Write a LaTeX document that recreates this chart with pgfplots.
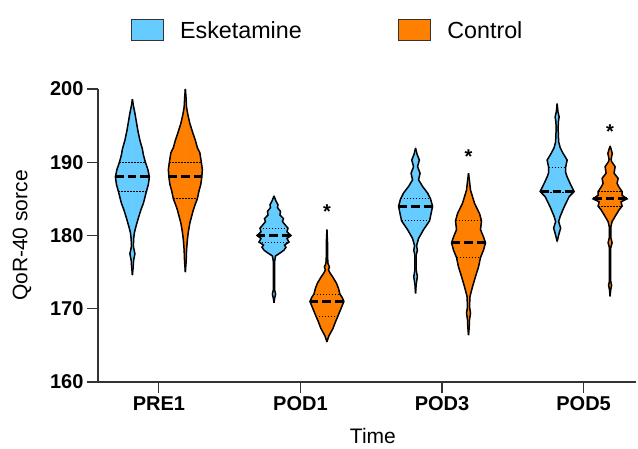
\documentclass[border=0pt]{standalone}
\usepackage{fontspec}
\setmainfont{Liberation Sans}
\usepackage{pgfplots}
\pgfplotsset{compat=1.18}
\usepackage{pgfplotstable}

\definecolor{eskblue}{HTML}{66CCFF}
\definecolor{ctrlorange}{HTML}{FF8000}

% violin profiles: v = score, w = half width (px)
\pgfplotstableread{
v w
174.6 0
175.6 0.7
176.6 1.2
177.5 2.5
178.5 1
179.5 1.2
180.4 2
181.2 3.5
182.4 6
183.5 8.5
184.4 11
185.2 12.5
186 14
187 16
188 17
189 15.5
190 13
191 11
191.8 10
193 7.5
194.3 5.5
195.5 4
196.7 2.5
197.7 1
198.6 0
}\preE
\pgfplotstableread{
v w
175 0
176.5 0.8
178 1.2
179.4 2
180.5 3
181.7 4.5
183.5 8
184.3 10
185 12
186 13.5
187 15.5
188 16.5
189 17
190 16
191.3 14.5
192 12
193 10
194 7.5
195.3 4.5
196.5 2.5
197.5 1.2
199 0.6
200 0
}\preC
\pgfplotstableread{
v w
170.8 0
171.4 0.6
172.0 1.6
172.6 0.6
174.5 0.6
176.5 0.7
177.2 1.5
177.6 6
178.0 10
178.4 12
178.7 10.5
179.1 15
179.6 13
180.0 17
180.5 13
181.0 14
181.4 11.5
181.9 8.5
182.3 9.5
182.8 6
183.3 6.5
183.8 3.5
184.2 4
184.7 2
185.4 0
}\podaE
\pgfplotstableread{
v w
165.5 0
166.3 2
167.3 6
168.2 8.5
169 11
170 14
171 17
171.6 15
172 13
172.8 11.5
173.5 9.5
174.3 6
174.9 3
175.3 1.5
175.7 2.5
176.2 1
177.2 0.6
179 0.6
180.8 0
}\podaC
\pgfplotstableread{
v w
172.1 0
173.3 0.6
174.4 1.8
175.3 0.6
177.3 0.6
178.0 1.8
178.6 1
179.6 3
180.8 8
182 14
183.3 16
184 17
185 15
185.8 12
186.7 7
187.6 3
188.5 4.5
189.4 2
190.3 3.8
191.1 1.5
191.9 0
}\podcE
\pgfplotstableread{
v w
166.4 0
167.5 0.7
168.5 1
169.4 2
170.3 1
171.7 1.5
173 4
174.4 7
175.7 10
177 12
178 15
179 17
179.8 15
180.8 12
182 13
183 11
184.4 6
185.3 4
186.2 2
187.4 1
188.5 0
}\podcC
\pgfplotstableread{
v w
179.2 0
180.3 2
181 3.5
181.9 1.5
182.6 3
183.9 7
185.3 12
186 17
187.1 13
188 10
188.6 8.5
189.3 8.5
190.3 10
191.2 6
192 3
192.8 1.5
194.5 1
195.5 1.2
196.2 2
196.9 0.8
198 0
}\podeE
\pgfplotstableread{
v w
171.7 0
172.6 0.6
173.2 1.5
173.8 0.6
178.3 0.6
179 2
179.7 0.8
181.2 0.8
181.9 2
182.6 5
183.5 9
184 12
184.6 11
185 17
185.5 12
186 12
186.6 9
187.1 7
187.8 8
188.5 4
189.4 5
190.1 1.5
190.4 1
191.2 2.2
191.8 1
192.2 0
}\podeC

\newcommand{\violin}[3]{%
  \addplot[fill=#3, draw=#3, line width=0.6bp, forget plot] table[x expr=#2+\thisrow{w}/141.7, y=v] {#1} -- cycle;
  \addplot[fill=#3, draw=#3, line width=0.6bp, forget plot] table[x expr=#2-\thisrow{w}/141.7, y=v] {#1} -- cycle;
  \addplot[black, line width=1.5bp, forget plot] table[x expr=#2+\thisrow{w}/141.7, y=v] {#1};
  \addplot[black, line width=1.5bp, forget plot] table[x expr=#2-\thisrow{w}/141.7, y=v] {#1};
}
% quartile / median line: centre, value, half width (px), style
\newcommand{\qline}[4]{%
  \addplot[#4, forget plot] table[x expr=#1+\thisrow{s}*#3/141.7, y expr=#2, row sep=\\] {s\\ -1\\ 1\\};
}
\tikzset{
  med/.style={black, line width=3.1bp, dash pattern=on 8.5bp off 4bp},
  qrt/.style={black, line width=1.1bp, dash pattern=on 1.4bp off 1.6bp},
}

\begin{document}
\begin{tikzpicture}
\begin{axis}[
    scale only axis,
    width=538bp, height=293bp,
    xmin=-0.43, xmax=3.37,
    ymin=160, ymax=200,
    axis x line*=bottom, axis y line*=left,
    axis line style={line width=1.1bp, black!80},
    xtick={0,1,2,3},
    xticklabels={PRE1,POD1,POD3,POD5},
    ytick={160,170,...,200},
    tick align=outside,
    major tick length=11bp,
    tick style={line width=1.1bp, black!80},
    ticklabel style={font=\fontsize{20bp}{24bp}\selectfont\bfseries},
    /pgf/number format/assume math mode=true,
    xlabel={Time}, ylabel={QoR-40 sorce},
    label style={font=\fontsize{21bp}{25bp}\selectfont},
    xlabel style={at={(axis description cs:0.511,0)}, anchor=center, yshift=-54bp, inner sep=1bp},
    ylabel style={at={(axis description cs:-0.141,0.5)}, anchor=center},
    legend style={draw=none, fill=none, at={(axis description cs:0.4266,1.2)},
        anchor=center, font=\fontsize{23.3bp}{27bp}\selectfont,
        /tikz/every even column/.append style={column sep=94bp}},
    legend columns=2,
    legend image code/.code={\draw[#1] (0bp,-10.5bp) rectangle (32bp,10.5bp);
        \path[draw=none, fill=none] (32bp,0bp) -- (47bp,0bp);},
    clip=false,
]
\addlegendimage{fill=eskblue, draw=black!80, line width=1bp}
\addlegendentry{Esketamine}
\addlegendimage{fill=ctrlorange, draw=black!80, line width=1bp}
\addlegendentry{Control}

% PRE1
\violin{\preE}{-0.187}{eskblue}
\qline{-0.187}{186}{14}{qrt}
\qline{-0.187}{190}{13}{qrt}
\qline{-0.187}{188}{17}{med}
\violin{\preC}{0.187}{ctrlorange}
\qline{0.187}{185}{12}{qrt}
\qline{0.187}{190}{16}{qrt}
\qline{0.187}{188}{16.5}{med}
% POD1
\violin{\podaE}{0.813}{eskblue}
\qline{0.813}{179.1}{15}{qrt}
\qline{0.813}{181}{14}{qrt}
\qline{0.813}{180}{17}{med}
\violin{\podaC}{1.187}{ctrlorange}
\qline{1.187}{169}{11}{qrt}
\qline{1.187}{172}{13}{qrt}
\qline{1.187}{171}{17}{med}
% POD3
\violin{\podcE}{1.813}{eskblue}
\qline{1.813}{182}{14}{qrt}
\qline{1.813}{185}{15}{qrt}
\qline{1.813}{184}{17}{med}
\violin{\podcC}{2.187}{ctrlorange}
\qline{2.187}{177}{12}{qrt}
\qline{2.187}{182}{13}{qrt}
\qline{2.187}{179}{17}{med}
% POD5
\violin{\podeE}{2.813}{eskblue}
\qline{2.813}{185.9}{16}{qrt}
\qline{2.813}{189.3}{8.5}{qrt}
\qline{2.813}{186}{17}{med}
\violin{\podeC}{3.187}{ctrlorange}
\qline{3.187}{184}{12}{qrt}
\qline{3.187}{186}{12}{qrt}
\qline{3.187}{185}{17}{med}

\node[font=\fontsize{20bp}{24bp}\selectfont\bfseries] at (axis cs:1.187,183.2) {*};
\node[font=\fontsize{20bp}{24bp}\selectfont\bfseries] at (axis cs:2.187,190.8) {*};
\node[font=\fontsize{20bp}{24bp}\selectfont\bfseries] at (axis cs:3.187,194.2) {*};
\end{axis}
\pgfresetboundingbox
\path (-98bp,-67bp) rectangle (540bp,382bp);
\end{tikzpicture}
\end{document}
